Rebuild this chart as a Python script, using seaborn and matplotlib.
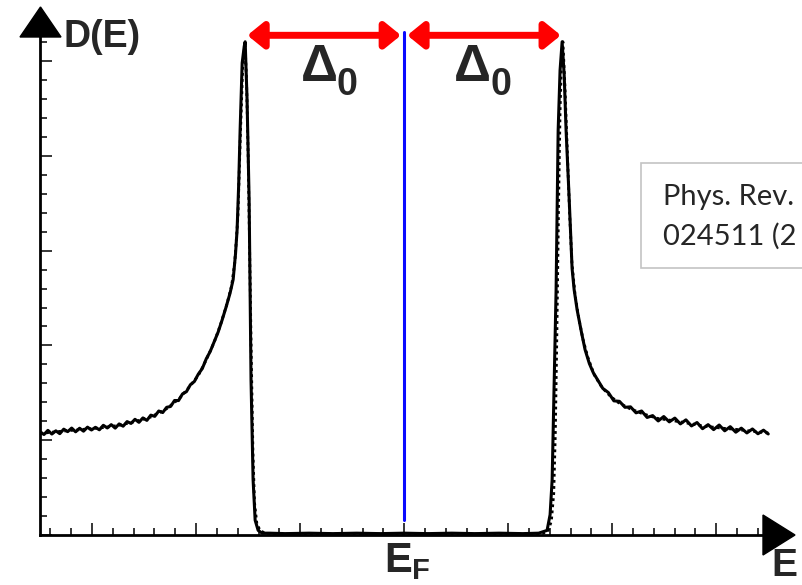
import pandas as pd
import matplotlib.pyplot as plt
import seaborn as sns
from matplotlib.patches import Polygon, Rectangle
from matplotlib.ticker import MultipleLocator

# energia en unidades de Delta_0, D(E) en unidades arbitrarias
delta0 = 1.0

# curva medida (linea continua con ruido)
med_izq_E = [-2.300, -2.275, -2.250, -2.225, -2.200, -2.175, -2.150, -2.125, -2.100, -2.075,
             -2.050, -2.025, -2.000, -1.975, -1.950, -1.925, -1.900, -1.875, -1.850, -1.825,
             -1.800, -1.775, -1.750, -1.725, -1.700, -1.675, -1.650, -1.625, -1.600, -1.575,
             -1.550, -1.525, -1.500, -1.475, -1.450, -1.425, -1.400, -1.375, -1.350, -1.325,
             -1.300, -1.275, -1.250, -1.225, -1.200]
med_izq_D = [1.120, 1.090, 1.135, 1.095, 1.130, 1.099, 1.148, 1.121, 1.160, 1.119,
             1.158, 1.126, 1.170, 1.139, 1.168, 1.141, 1.190, 1.161, 1.197, 1.159,
             1.205, 1.180, 1.230, 1.210, 1.255, 1.222, 1.270, 1.243, 1.300, 1.287,
             1.345, 1.328, 1.385, 1.394, 1.459, 1.458, 1.530, 1.555, 1.630, 1.665,
             1.745, 1.805, 1.910, 1.990, 2.095]

med_centro_E = [-1.175, -1.150, -1.125, -1.100, -1.080, -1.065, -1.055, -1.045, -1.036, -1.023,
                -1.010, -1.004, -0.992, -0.979, -0.973, -0.967, -0.954, -0.941, -0.922, -0.897,
                -0.85, -0.75, -0.60, -0.45, -0.30, -0.15, 0.00, 0.15, 0.30, 0.45, 0.60, 0.75, 0.85,
                0.903, 0.922, 0.935, 0.948, 0.960, 0.973, 0.985, 0.998, 1.011, 1.023,
                1.042, 1.061, 1.074, 1.093, 1.120, 1.143, 1.170, 1.195]
med_centro_D = [2.20, 2.33, 2.47, 2.62, 2.77, 3.05, 3.31, 3.80, 4.39, 5.12,
                5.30, 5.35, 4.72, 3.63, 2.66, 1.68, 0.60, 0.16, 0.05, 0.02,
                0.02, 0.015, 0.02, 0.015, 0.02, 0.015, 0.02, 0.015, 0.02, 0.015, 0.02, 0.015, 0.02,
                0.05, 0.22, 0.60, 1.68, 2.66, 4.39, 5.04, 5.35, 4.99, 4.39,
                3.67, 2.89, 2.66, 2.44, 2.20, 2.01, 1.86, 1.76]

med_der_E = [1.220, 1.255, 1.290, 1.325, 1.360, 1.395, 1.430, 1.465, 1.500, 1.535,
             1.570, 1.605, 1.640, 1.675, 1.710, 1.745, 1.780, 1.815, 1.850, 1.885,
             1.920, 1.955, 1.990, 2.025, 2.060, 2.095, 2.130, 2.165, 2.200, 2.235,
             2.270, 2.300]
med_der_D = [1.690, 1.590, 1.545, 1.455, 1.450, 1.385, 1.390, 1.325, 1.345, 1.275,
             1.295, 1.237, 1.285, 1.227, 1.268, 1.205, 1.249, 1.183, 1.220, 1.153,
             1.197, 1.143, 1.193, 1.130, 1.175, 1.115, 1.159, 1.107, 1.150, 1.098,
             1.137, 1.096]

# ajuste (linea punteada)
ajuste_E = [-2.30, -2.20, -2.10, -2.00, -1.90, -1.80, -1.70, -1.60, -1.50, -1.42,
            -1.35, -1.30, -1.25, -1.20, -1.16, -1.12, -1.09, -1.07, -1.05, -1.035,
            -1.02, -1.005, -0.995, -0.985, -0.975, -0.965, -0.955, -0.945, -0.93, -0.91,
            -0.88, -0.80, -0.40, 0.00, 0.40, 0.80, 0.88, 0.91, 0.93, 0.945,
            0.955, 0.965, 0.975, 0.985, 0.995, 1.003, 1.015, 1.03, 1.045, 1.06,
            1.08, 1.10, 1.13, 1.16, 1.20, 1.25, 1.30, 1.35, 1.42, 1.50,
            1.60, 1.70, 1.80, 1.90, 2.00, 2.10, 2.20, 2.30]
ajuste_D = [1.10, 1.12, 1.135, 1.15, 1.165, 1.19, 1.23, 1.28, 1.37, 1.48,
            1.62, 1.73, 1.90, 2.09, 2.28, 2.50, 2.70, 2.95, 3.45, 4.30,
            5.05, 5.35, 4.90, 4.10, 3.00, 1.90, 0.90, 0.35, 0.12, 0.05,
            0.02, 0.01, 0.01, 0.01, 0.01, 0.01, 0.02, 0.05, 0.15, 0.45,
            1.10, 2.20, 3.50, 4.60, 5.20, 5.35, 4.90, 4.20, 3.50, 2.95,
            2.60, 2.38, 2.12, 1.93, 1.74, 1.60, 1.51, 1.44, 1.375, 1.32,
            1.265, 1.24, 1.21, 1.18, 1.16, 1.145, 1.125, 1.106]

medido = pd.DataFrame({'E': med_izq_E + med_centro_E + med_der_E,
                       'D': med_izq_D + med_centro_D + med_der_D})
ajuste = pd.DataFrame({'E': ajuste_E, 'D': ajuste_D})

sns.set_style('white')
plt.rcParams['font.family'] = ['Liberation Sans', 'DejaVu Sans']

W, H = 802, 585
fig = plt.figure(figsize=(W / 100, H / 100), dpi=100)


def px(x, y):
    return (x / W, 1 - y / H)


ax = fig.add_axes([40 / W, 50 / H, 755 / W, 528 / H])
ax.set_facecolor('none')

sns.lineplot(data=medido, x='E', y='D', ax=ax, color='black', lw=2.2,
             estimator=None, sort=False)
sns.lineplot(data=ajuste, x='E', y='D', ax=ax, color='black', lw=2.0,
             linestyle=(0, (1, 1.2)), estimator=None, sort=False)

ax.set_xlim(-2.30, 2.469)
ax.set_ylim(0, 5.727)
ax.set_xlabel('')
ax.set_ylabel('')

for s in ['top', 'right']:
    ax.spines[s].set_visible(False)
for s in ['left', 'bottom']:
    ax.spines[s].set_color('black')
    ax.spines[s].set_linewidth(2.0)
ax.spines['left'].set_bounds(0, 5.40)
ax.spines['bottom'].set_bounds(-2.30, 2.268)

ax.xaxis.set_major_locator(MultipleLocator(0.657))
ax.xaxis.set_minor_locator(MultipleLocator(0.1314))
ax.yaxis.set_major_locator(MultipleLocator(1.028))
ax.yaxis.set_minor_locator(MultipleLocator(0.2056))
ax.tick_params(which='both', direction='in', left=True, bottom=True,
               labelleft=False, labelbottom=False, color='black', width=1.1)
ax.tick_params(which='major', length=8.5)
ax.tick_params(which='minor', length=5)

# nivel de Fermi
ax.plot([0, 0], [0.16, 5.455], color='#0a0aff', lw=2.2)

# flechas Delta_0
flecha = dict(arrowstyle='<|-|>,head_length=0.32,head_width=0.26', mutation_scale=30,
              lw=5, color='#ff0000', shrinkA=0, shrinkB=0)
ax.annotate('', xy=(-delta0 + 0.01, 5.42), xytext=(-0.02, 5.42), arrowprops=flecha)
ax.annotate('', xy=(0.02, 5.42), xytext=(delta0 - 0.01, 5.42), arrowprops=flecha)

# flechas de los ejes
fig.patches.append(Polygon([px(20, 37), px(61, 37), px(40.5, 7)], closed=True,
                           transform=fig.transFigure, color='black'))
fig.patches.append(Polygon([px(763, 515), px(763, 555), px(795, 535)], closed=True,
                           transform=fig.transFigure, color='black'))

# textos
negrita = dict(fontweight='bold', family=['Liberation Sans', 'DejaVu Sans'], va='baseline')
fig.text(*px(64, 47), 'D(E)', fontsize=27, ha='left', **negrita)
fig.text(*px(319, 81), 'Δ', fontsize=37, ha='center', **negrita)
fig.text(*px(337, 95), '0', fontsize=27, ha='left', **negrita)
fig.text(*px(472, 81), 'Δ', fontsize=37, ha='center', **negrita)
fig.text(*px(491, 95), '0', fontsize=27, ha='left', **negrita)
fig.text(*px(384, 572), 'E', fontsize=30, ha='left', **negrita)
fig.text(*px(412, 579), 'F', fontsize=21, ha='left', **negrita)
fig.text(*px(771, 576), 'E', fontsize=28, ha='left', **negrita)

# recuadro de la referencia (cortado por el borde)
fig.patches.append(Rectangle(px(641, 268), 200 / W, 105 / H, transform=fig.transFigure,
                             facecolor='white', edgecolor='#c4c4c4', lw=1.2))
fig.text(*px(663, 205), 'Phys. Rev.', fontsize=21, family='Lato', ha='left', va='baseline')
fig.text(*px(663, 245), '024511 (2', fontsize=21, family='Lato', ha='left', va='baseline')

plt.savefig('out.png', dpi=100)
